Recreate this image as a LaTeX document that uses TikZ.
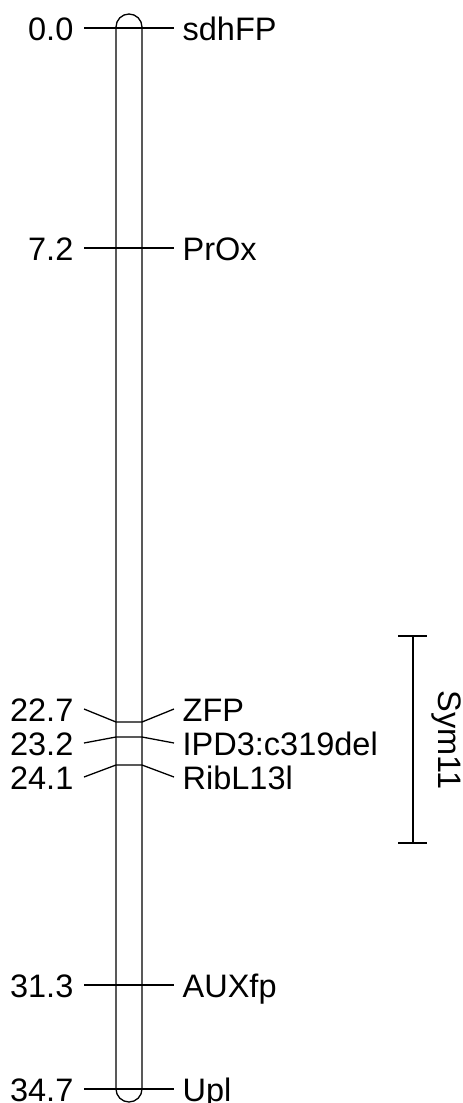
\documentclass[tikz,border=0pt]{standalone}
\usepackage{fontspec}
\setmainfont{Liberation Sans}
\begin{document}
\begin{tikzpicture}[x=1pt,y=-1pt,line width=1.3pt,
  lab/.style={font=\fontsize{32.5}{38}\selectfont,inner sep=0pt}]
\useasboundingbox (0,0) rectangle (463,1103);
\draw[rounded corners=13pt] (116,14) rectangle (142,1102);
\foreach \m/\l/\a/\b/\n in {28/28/0.0/sdhFP/a,248/248/7.2/PrOx/b,722/709/22.7/ZFP/c,737/743/23.2/IPD3:c319del/d,765/777/24.1/RibL13l/e,985/985/31.3/AUXfp/f,1089/1089/34.7/Upl/g}{
  \node[lab,anchor=base east] (L\n) at (74,\l+12) {\a};
  \node[lab,anchor=base west] (R\n) at (182,\l+12) {\b};
  \coordinate (CL\n) at (116,\m);
  \coordinate (CR\n) at (142,\m);
  \coordinate (EL\n) at (84,\l);
  \coordinate (ER\n) at (174,\l);
  \draw (EL\n) -- (CL\n) -- (CR\n) -- (ER\n);
}
\coordinate (st) at (413,636);
\coordinate (sb) at (413,843);
\draw (st) -- (sb);
\draw ([xshift=-15pt]st) -- ([xshift=14pt]st);
\draw ([xshift=-15pt]sb) -- ([xshift=14pt]sb);
\node[lab,rotate=-90] (sym) at (446,740) {Sym11};
\end{tikzpicture}
\end{document}
